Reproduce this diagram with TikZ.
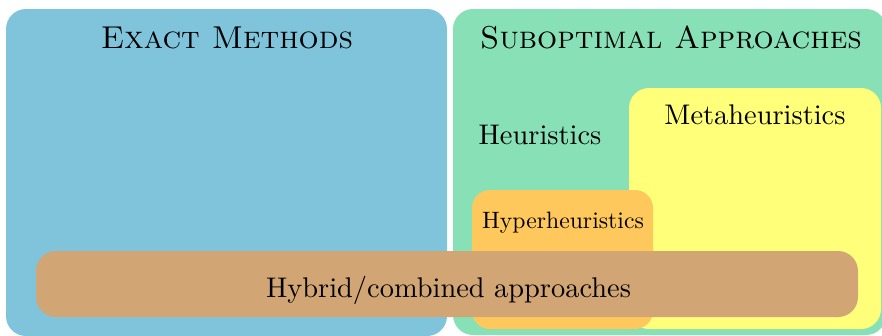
\documentclass[tikz,border=0pt]{standalone}
\usepackage{fontspec}
\usepackage{tikz}
% 10pt design size of Latin Modern, scaled up
\newfontfamily\lmten{lmroman10-regular.otf}
\newfontfamily\lmcapsten{lmromancaps10-regular.otf}
\definecolor{exactblue}{HTML}{80C4DC}
\definecolor{subgreen}{HTML}{88E0B6}
\definecolor{metayellow}{HTML}{FFFF7A}
\definecolor{hyperorange}{HTML}{FFC85C}
\definecolor{hybridbrown}{HTML}{D2A574}
\tikzset{
  region/.style={rounded corners=20pt, inner sep=0pt, outer sep=0pt, draw=none},
  bigtext/.style={anchor=base, inner sep=0pt, font=\lmten\fontsize{28.4}{34}\selectfont},
  smalltext/.style={anchor=base, inner sep=0pt, font=\lmten\fontsize{23.7}{28}\selectfont},
  titletext/.style={anchor=base, inner sep=0pt, font=\lmcapsten\fontsize{31.6}{38}\selectfont},
}
\begin{document}
\begin{tikzpicture}[x=1pt, y=-1pt]
  \useasboundingbox (0,0) rectangle (882,335);
  % outer regions
  \path[region, fill=exactblue] (6,9) rectangle (447,336);
  \path[region, fill=subgreen] (453,9) rectangle (886,335);
  % inner regions
  \path[region, fill=metayellow] (629,88) rectangle (881,329);
  \path[region, fill=hyperorange, rounded corners=18pt] (472,190) rectangle (653,329);
  \path[region, fill=hybridbrown] (36,251) rectangle (858,317);
  % labels
  \node[titletext] (exact) at (227,48) {Exact Methods};
  \node[titletext] (subopt) at (671,48) {Suboptimal Approaches};
  \node[bigtext] (heur) at (540,144) {Heuristics};
  \node[bigtext] (meta) at (755,124) {Metaheuristics};
  \node[smalltext] (hyper) at (563,228) {Hyperheuristics};
  \node[bigtext] (hybrid) at (448.5,297) {Hybrid/combined approaches};
\end{tikzpicture}
\end{document}
